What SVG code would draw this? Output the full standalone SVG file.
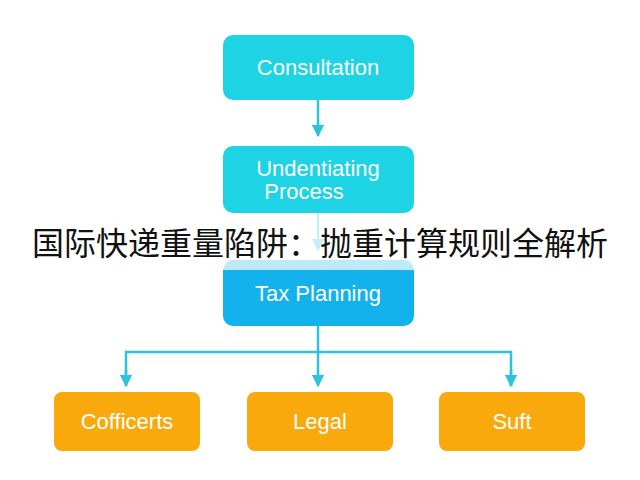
<svg xmlns="http://www.w3.org/2000/svg" width="640" height="480" viewBox="0 0 640 480">
<style>
.b{fill:#1ed3e3}.o{fill:#f9a90c}.t{font-family:"Liberation Sans",Arial,sans-serif;font-size:22px;fill:#fff;text-anchor:middle}
.c{stroke:#2cc4dc;stroke-width:2.5;fill:none}
</style>
<defs><marker id="a" viewBox="0 0 10 10" refX="9" refY="5" markerWidth="5" markerHeight="5" orient="auto"><path d="M0,0L10,5L0,10z" fill="#2cc4dc"/></marker></defs>
<rect width="640" height="480" fill="#fff"/>
<g id="connectors">
<path class="c" d="M318,100V136" marker-end="url(#a)"/>
<path class="c" d="M318,213V250" marker-end="url(#a)"/>
<path class="c" d="M318,326V386" marker-end="url(#a)"/>
<path class="c" d="M126,386V352H511V386" />
<path class="c" d="M126,370V386" marker-end="url(#a)"/>
<path class="c" d="M511,370V386" marker-end="url(#a)"/>
</g>
<g id="consultation"><rect class="b" x="223" y="35" width="191" height="65" rx="10"/><text class="t" x="318" y="75">Consultation</text></g>
<g id="undentiating"><rect class="b" x="223" y="146" width="191" height="67" rx="10"/><text class="t" x="318" y="176">Undentiating</text><text class="t" x="304" y="199">Process</text></g>
<g id="tax"><rect x="223" y="260" width="191" height="66" rx="10" fill="#14b2ec"/><text class="t" x="318" y="301">Tax Planning</text></g>
<g id="cofficerts"><rect class="o" x="54" y="392" width="146" height="59" rx="8"/><text class="t" x="127" y="429">Cofficerts</text></g>
<g id="legal"><rect class="o" x="247" y="392" width="146" height="59" rx="8"/><text class="t" x="320" y="429">Legal</text></g>
<g id="suft"><rect class="o" x="439" y="392" width="146" height="59" rx="8"/><text class="t" x="512" y="429">Suft</text></g>
<g id="title"><rect x="0" y="213" width="640" height="57" fill="#fff" fill-opacity="0.72"/>
<text x="320" y="255" font-family="'Noto Sans CJK SC',sans-serif" font-size="32" text-anchor="middle" fill="#111">国际快递重量陷阱：抛重计算规则全解析</text></g>
</svg>
